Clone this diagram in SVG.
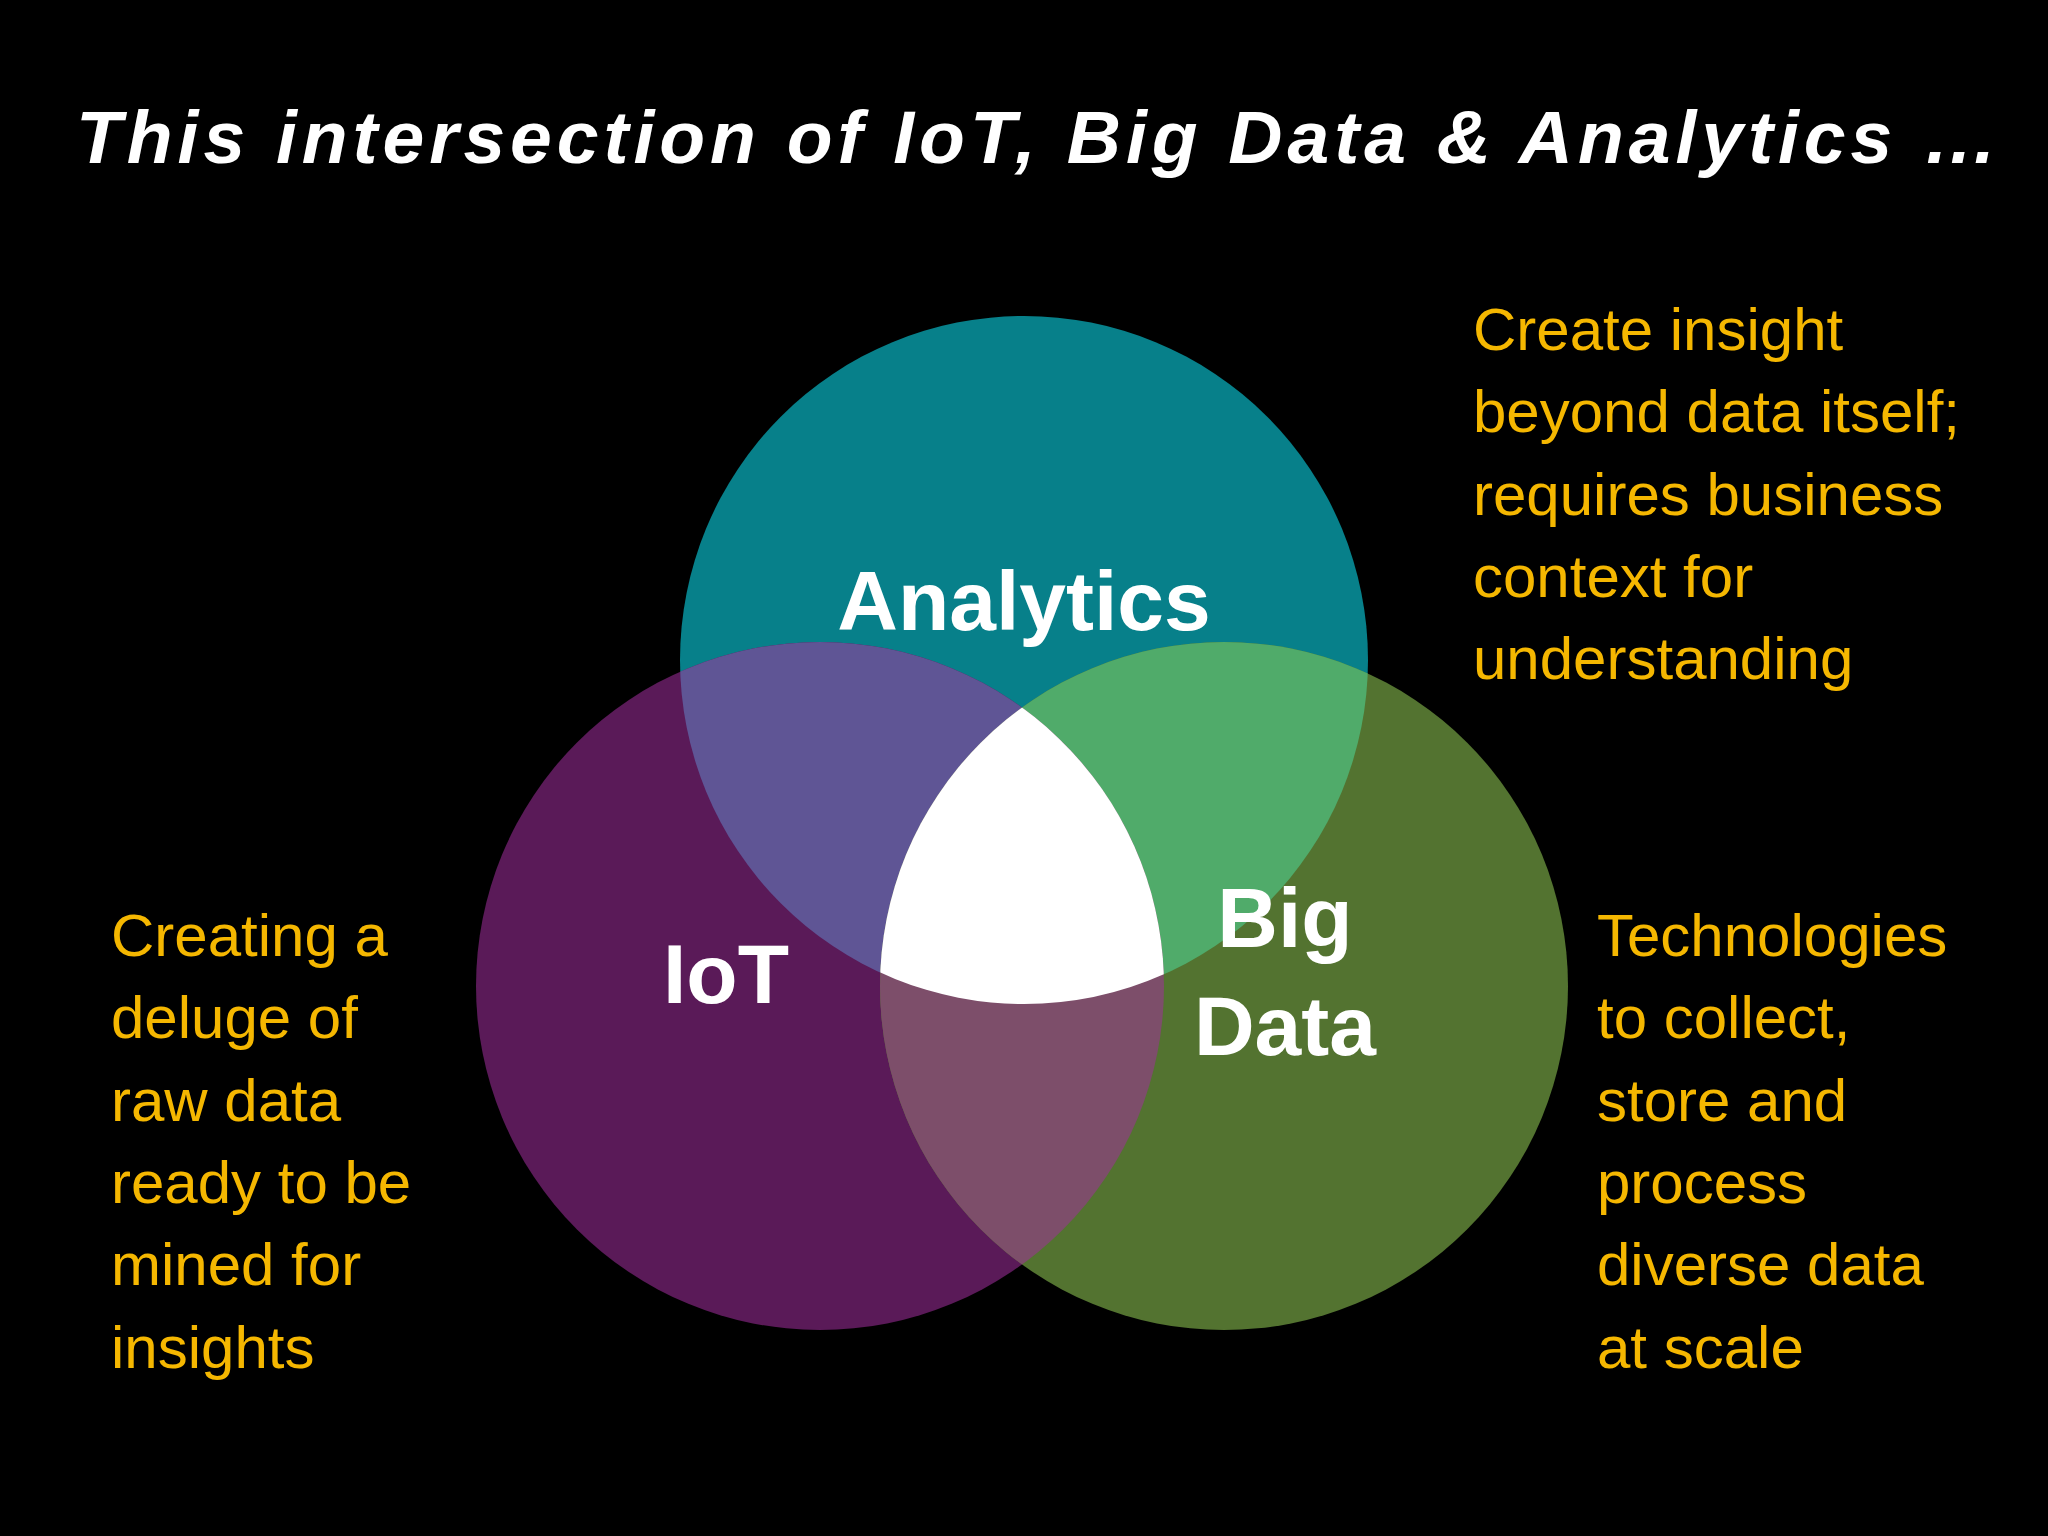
<svg xmlns="http://www.w3.org/2000/svg" width="2048" height="1536" viewBox="0 0 2048 1536">
<style>
.t{font-family:"Liberation Sans",Arial,sans-serif;fill:#ffffff;font-weight:bold}
.o{font-family:"Liberation Sans",Arial,sans-serif;fill:#f5b700;font-size:60px}
</style>
<defs>
<clipPath id="cA"><circle cx="1024" cy="660" r="344"/></clipPath>
<clipPath id="cI"><circle cx="820" cy="986" r="344"/></clipPath>
<clipPath id="cAI" clip-path="url(#cA)"><circle cx="820" cy="986" r="344"/></clipPath>
</defs>
<rect width="2048" height="1536" fill="#000"/>
<text class="t" x="76" y="163" font-size="75" font-style="italic" textLength="1922">This intersection of IoT, Big Data &amp; Analytics …</text>
<g id="analytics">
<circle cx="1024" cy="660" r="344" fill="#07808a"/>
</g>
<g id="iot">
<circle cx="820" cy="986" r="344" fill="#5a1a58"/>
</g>
<g id="bigdata">
<circle cx="1224" cy="986" r="344" fill="#537330"/>
</g>
<g id="overlaps">
<circle cx="820" cy="986" r="344" fill="#5f5595" clip-path="url(#cA)"/>
<circle cx="1224" cy="986" r="344" fill="#50ab6a" clip-path="url(#cA)"/>
<circle cx="1224" cy="986" r="344" fill="#7d4e6a" clip-path="url(#cI)"/>
<circle cx="1224" cy="986" r="344" fill="#ffffff" clip-path="url(#cAI)"/>
</g>
<text class="t" x="1024" y="630" font-size="84" text-anchor="middle">Analytics</text>
<text class="t" x="726" y="1003" font-size="84" text-anchor="middle">IoT</text>
<text class="t" x="1285" y="947" font-size="84" text-anchor="middle">Big</text>
<text class="t" x="1285" y="1055" font-size="84" text-anchor="middle">Data</text>
<g class="o">
<text x="1473" y="350">Create insight</text>
<text x="1473" y="432">beyond data itself;</text>
<text x="1473" y="515">requires business</text>
<text x="1473" y="597">context for</text>
<text x="1473" y="679">understanding</text>
<text x="111" y="956">Creating a</text>
<text x="111" y="1038">deluge of</text>
<text x="111" y="1121">raw data</text>
<text x="111" y="1203">ready to be</text>
<text x="111" y="1285">mined for</text>
<text x="111" y="1368">insights</text>
<text x="1597" y="956">Technologies</text>
<text x="1597" y="1038">to collect,</text>
<text x="1597" y="1121">store and</text>
<text x="1597" y="1203">process</text>
<text x="1597" y="1285">diverse data</text>
<text x="1597" y="1368">at scale</text>
</g>
</svg>
